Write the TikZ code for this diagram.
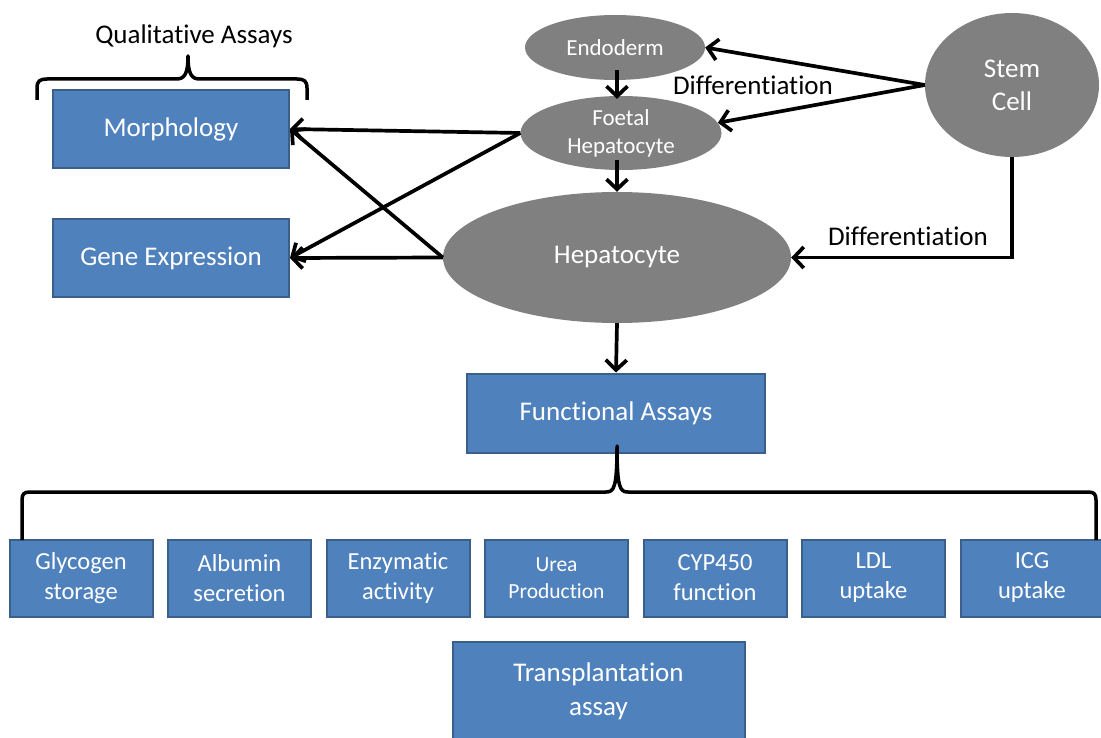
\documentclass[tikz,border=0pt]{standalone}
\usepackage{fontspec}
\setmainfont{Carlito}[Ligatures=NoCommon]
\usetikzlibrary{arrows.meta,shapes.geometric,calc}
\definecolor{boxfill}{HTML}{4F81BD}
\definecolor{boxline}{HTML}{3A5F8B}
\definecolor{cellgray}{HTML}{808080}
\begin{document}
\begin{tikzpicture}[x=1pt,y=-1pt,
  box/.style={draw=boxline, fill=boxfill, line width=2pt, text=white, align=center, inner sep=0pt,
    font=\fontsize{27}{34}\selectfont},
  bigbox/.style={box, minimum width=236pt, minimum height=78pt},
  smallbox/.style={box, minimum width=143pt, minimum height=77pt, font=\fontsize{24.5}{30}\selectfont},
  cell/.style={ellipse, fill=cellgray, text=white, align=center, inner sep=0pt,
    font=\fontsize{27}{33}\selectfont},
  arr/.style={line width=3.7pt, -{Straight Barb[length=10pt,width=21pt]}},
  brace/.style={line width=3.5pt, line join=round},
  lbl/.style={font=\fontsize{27}{33}\selectfont, inner sep=0pt}
]
\useasboundingbox (0,0) rectangle (1101,738);

% ellipses
\node[cell, minimum width=180pt, minimum height=65pt, font=\fontsize{23}{28}\selectfont] (endo) at (615,47.5) {Endoderm};
\node[cell, minimum width=201pt, minimum height=74pt, font=\fontsize{23}{28}\selectfont] (foetal) at (621,133) {Foetal\\Hepatocyte};
\node[cell, minimum width=348pt, minimum height=131pt] (hep) at (617,257.5) {Hepatocyte};
\node[cell, minimum width=174pt, minimum height=144pt] (stem) at (1012,85) {Stem\\Cell};

% boxes
\node[bigbox] (morph) at (171,129) {Morphology};
\node[bigbox] (gene) at (171,258) {Gene Expression};
\node[box, minimum width=298pt, minimum height=79pt] (func) at (616,413) {Functional Assays};
\node[box, minimum width=292pt, minimum height=98pt] (trans) at (598.5,691) {Transplantation\\assay};

\node[smallbox] (glyc) at (81,578) {Glycogen\\storage};
\node[smallbox] (alb) at (239.5,578) {Albumin\\secretion};
\node[smallbox] (enz) at (398,578) {Enzymatic\\activity};
\node[smallbox, font=\fontsize{21.5}{27}\selectfont] (urea) at (556.5,578) {Urea\\Production};
\node[smallbox] (cyp) at (715,578) {CYP450\\function};
\node[smallbox] (ldl) at (873.5,578) {LDL\\uptake};
\node[smallbox] (icg) at (1032,578) {ICG\\uptake};

% labels
\node[lbl] (qual) at (194,36) {Qualitative Assays};
\node[lbl] (diff1) at (753,85) {Differentiation};
\node[lbl] (diff2) at (908,236) {Differentiation};

% arrows
\draw[arr] (stem.west) -- (endo.east);
\draw[arr] (stem.west) -- (foetal.6);
\draw[arr] ($(endo.south)+(2,-10)$) -- ($(foetal.north)+(-4,3)$);
\draw[arr] ($(foetal.south)+(-4,-10)$) -- (hep.north);
\draw[arr] (foetal.west) -- (morph.east);
\draw[arr] (foetal.west) -- (gene.east);
\draw[arr] (hep.west) -- (morph.east);
\draw[arr] (hep.west) -- (gene.east);
\draw[arr] (stem.south) |- (hep.east);
\draw[arr] (hep.south) -- (func.north);

% braces
\draw[brace] (37,100) -- (37,88) .. controls (37,81) and (40,79) .. (47,79) -- (176,79)
  .. controls (184,79) and (188,75) .. (188,56) .. controls (188,75) and (192,79) .. (200,79)
  -- (297,79) .. controls (304,79) and (307,81) .. (307,88) -- (307,100);
\draw[brace] (22,540) -- (22,500) .. controls (22,494) and (24,492) .. (30,492) -- (606,492)
  .. controls (614,492) and (617,488) .. (617,446) .. controls (617,488) and (620,492) .. (628,492)
  -- (1088,492) .. controls (1094,492) and (1096,494) .. (1096,500) -- (1096,540);
\end{tikzpicture}
\end{document}
